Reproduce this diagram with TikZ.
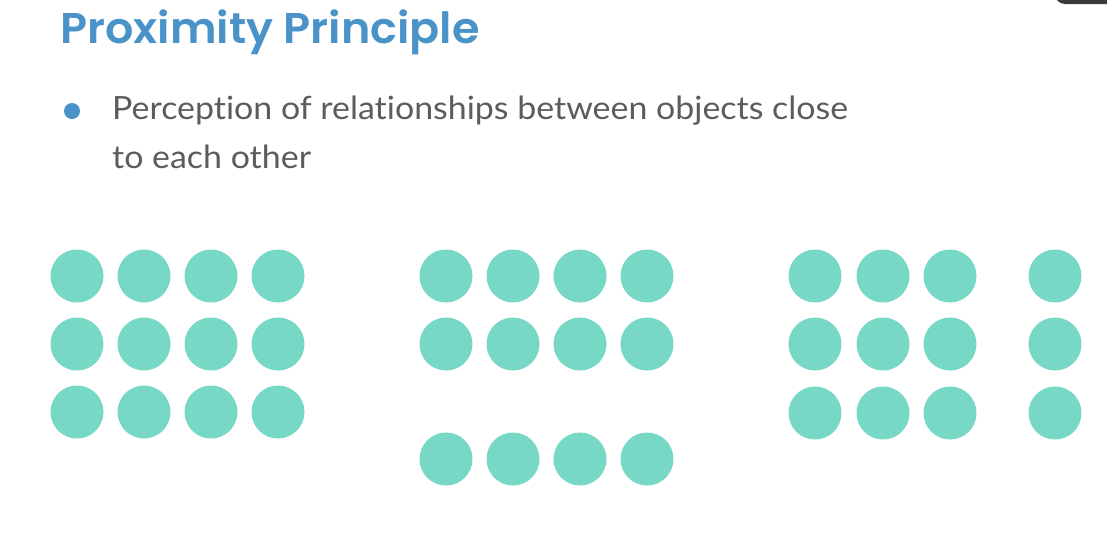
\documentclass[tikz,border=0pt]{standalone}
\usepackage{fontspec}
\setmainfont{Lato}[Ligatures=NoCommon, FakeStretch=1.06]
\newfontfamily\titlefont{Poppins}[BoldFont={* SemiBold}, FakeStretch=1.035]
\definecolor{titleblue}{HTML}{4A93C9}
\definecolor{dotteal}{HTML}{76D8C5}
\definecolor{textgray}{HTML}{5C5C5C}
\definecolor{bargray}{HTML}{3A3A3A}
\begin{document}
\begin{tikzpicture}[x=1pt, y=-1pt,
    dot/.style={circle, fill=dotteal, minimum size=53pt, inner sep=0pt},
    bodytext/.style={anchor=base west, inner sep=0pt, text=textgray,
        font=\fontsize{32}{40}\selectfont}]

    \useasboundingbox (0,0) rectangle (1107,542);
    \fill[white] (0,0) rectangle (1107,542);
    \fill[bargray, rounded corners=10pt] (1055,-20) rectangle (1130,4);

    \node[anchor=base west, inner sep=0pt, text=titleblue,
        font=\titlefont\fontsize{43}{50}\selectfont\bfseries] (title) at (60,43) {Proximity Principle};

    \node[circle, fill=titleblue, minimum size=16pt, inner sep=0pt] (bullet) at (72,111) {};
    \node[bodytext] (line1) at (112,119) {Perception of relationships between objects close};
    \node[bodytext] (line2) at (112,168) {to each other};

    % rows close together
    \foreach \x [count=\c] in {77,144,211,278}
        \foreach \y [count=\r] in {276,344,412}
            \node[dot] (left-\r-\c) at (\x,\y) {};

    % last row set apart
    \foreach \x [count=\c] in {446,513,580,647}
        \foreach \y [count=\r] in {276,344,459}
            \node[dot] (mid-\r-\c) at (\x,\y) {};

    % last column set apart
    \foreach \x [count=\c] in {815,883,950,1055}
        \foreach \y [count=\r] in {276,344,413}
            \node[dot] (right-\r-\c) at (\x,\y) {};

\end{tikzpicture}
\end{document}
